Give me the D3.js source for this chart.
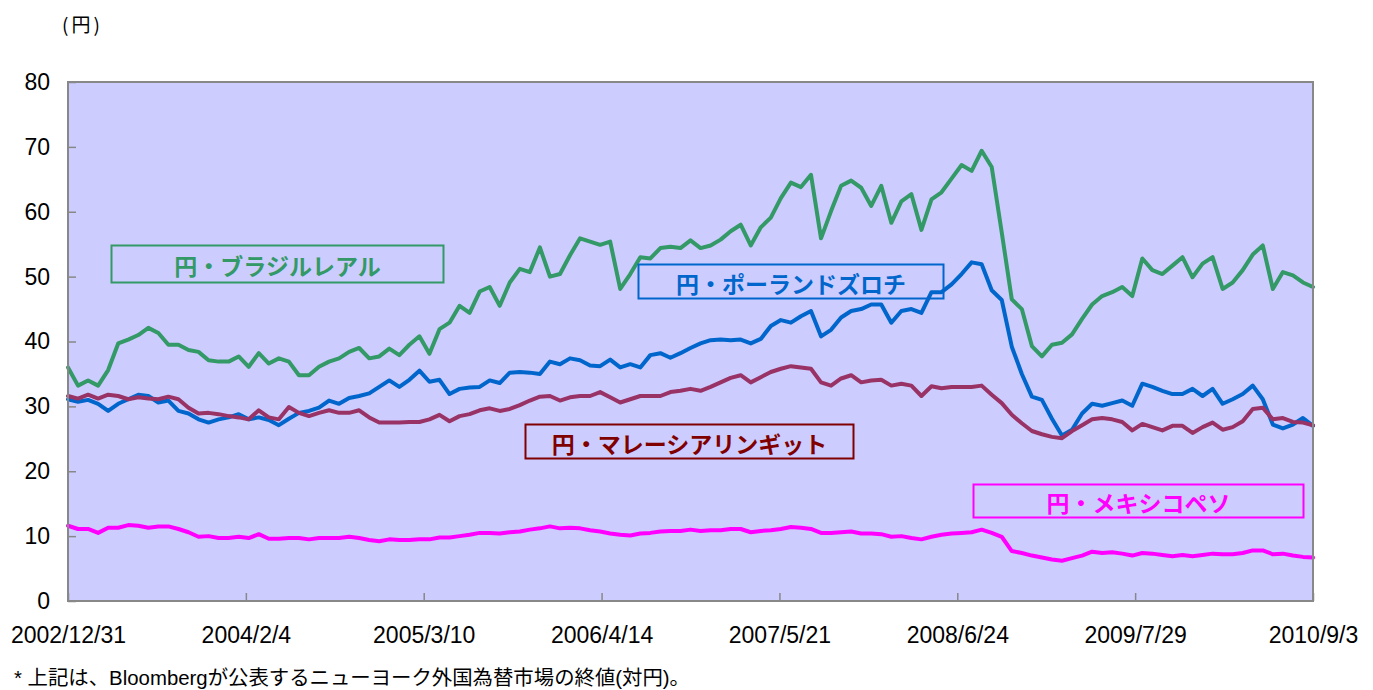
<!DOCTYPE html>
<html>
<head>
<meta charset="utf-8">
<script src="https://cdn.jsdelivr.net/npm/d3@7/dist/d3.min.js"></script>
<style>
  html, body { margin: 0; padding: 0; background: #ffffff; }
  svg { display: block; }
</style>
</head>
<body>
<svg id="chart" width="1373" height="690"></svg>
<script>
// ---- data (equally spaced samples 2002/12/31 → 2010/9/3) ----
const tickLabels = ["2002/12/31", "2004/2/4", "2005/3/10", "2006/4/14", "2007/5/21", "2008/6/24", "2009/7/29", "2010/9/3"];
const yTicks = [0, 10, 20, 30, 40, 50, 60, 70, 80];

const brl = [36.0, 33.2, 34.0, 33.2, 35.6, 39.7, 40.3, 41.0, 42.1, 41.3,
  39.5, 39.5, 38.7, 38.4, 37.1, 36.9, 36.9, 37.7, 36.1, 38.2,
  36.6, 37.4, 36.9, 34.8, 34.8, 36.1, 36.9, 37.4, 38.4, 39.0,
  37.4, 37.7, 38.9, 37.9, 39.5, 40.8, 38.1, 41.9, 42.9, 45.5,
  44.4, 47.7, 48.4, 45.5, 49.1, 51.2, 50.7, 54.5, 50.0, 50.4,
  53.3, 55.9, 55.4, 54.9, 55.4, 48.1, 50.4, 53.0, 52.8, 54.4,
  54.6, 54.4, 55.6, 54.4, 54.8, 55.7, 57.0, 58.0, 54.8, 57.6,
  59.1, 62.1, 64.5, 63.8, 65.7, 55.9, 60.1, 64.0, 64.8, 63.7,
  60.9, 64.0, 58.3, 61.6, 62.7, 57.2, 61.9, 63.0, 65.1, 67.2,
  66.3, 69.4, 66.9, 56.8, 46.5, 45.0, 39.3, 37.7, 39.5, 39.8,
  41.1, 43.5, 45.7, 47.0, 47.6, 48.4, 47.0, 52.8, 51.0, 50.4,
  51.7, 53.0, 49.9, 52.0, 53.0, 48.1, 49.1, 51.0, 53.4, 54.8,
  48.1, 50.7, 50.2, 49.1, 48.4];

const pln = [31.1, 30.7, 31.0, 30.4, 29.3, 30.4, 31.1, 31.8, 31.6, 30.6,
  30.9, 29.3, 28.9, 28.0, 27.5, 28.0, 28.3, 28.8, 28.0, 28.3,
  27.9, 27.1, 28.1, 29.0, 29.3, 29.8, 30.9, 30.4, 31.3, 31.6,
  32.0, 33.0, 34.0, 33.0, 34.1, 35.5, 33.8, 34.1, 31.9, 32.7,
  32.9, 33.0, 34.0, 33.6, 35.2, 35.3, 35.2, 35.0, 36.9, 36.5,
  37.4, 37.1, 36.3, 36.2, 37.2, 36.0, 36.5, 36.0, 37.9, 38.2,
  37.5, 38.2, 39.0, 39.7, 40.2, 40.3, 40.2, 40.3, 39.7, 40.4,
  42.4, 43.3, 42.9, 43.9, 44.7, 40.8, 41.8, 43.7, 44.7, 45.0,
  45.7, 45.7, 42.9, 44.7, 45.0, 44.4, 47.6, 47.6, 48.8, 50.4,
  52.2, 51.9, 47.9, 46.4, 39.2, 35.0, 31.5, 31.0, 28.1, 25.5,
  26.4, 28.9, 30.4, 30.1, 30.5, 30.9, 30.1, 33.5, 33.0, 32.4,
  31.9, 31.9, 32.7, 31.6, 32.7, 30.4, 31.1, 31.9, 33.2, 31.1,
  27.2, 26.6, 27.2, 28.2, 27.0];

const myr = [31.6, 31.2, 31.8, 31.2, 31.8, 31.6, 31.1, 31.4, 31.2, 31.1,
  31.5, 31.1, 29.8, 28.9, 29.0, 28.8, 28.5, 28.3, 28.0, 29.4,
  28.3, 28.0, 29.9, 29.0, 28.5, 29.0, 29.4, 29.0, 29.0, 29.4,
  28.3, 27.5, 27.5, 27.5, 27.6, 27.6, 28.0, 28.7, 27.7, 28.5,
  28.8, 29.4, 29.7, 29.3, 29.6, 30.2, 30.9, 31.5, 31.6, 30.9,
  31.4, 31.6, 31.6, 32.2, 31.4, 30.6, 31.1, 31.6, 31.6, 31.6,
  32.2, 32.4, 32.7, 32.4, 33.0, 33.7, 34.4, 34.8, 33.7, 34.5,
  35.3, 35.8, 36.2, 36.0, 35.8, 33.7, 33.2, 34.3, 34.8, 33.7,
  34.0, 34.1, 33.2, 33.5, 33.2, 31.6, 33.1, 32.8, 33.0, 33.0,
  33.0, 33.2, 31.8, 30.5, 28.7, 27.4, 26.2, 25.7, 25.3, 25.1,
  26.2, 27.1, 28.0, 28.2, 28.0, 27.6, 26.3, 27.3, 26.8, 26.3,
  27.0, 27.0, 25.9, 26.8, 27.5, 26.4, 26.8, 27.7, 29.6, 29.8,
  28.0, 28.2, 27.6, 27.5, 27.1];

const mxn = [11.6, 11.1, 11.1, 10.5, 11.3, 11.3, 11.7, 11.6, 11.3, 11.5,
  11.5, 11.1, 10.6, 9.9, 10.0, 9.7, 9.7, 9.9, 9.7, 10.3,
  9.6, 9.6, 9.7, 9.7, 9.5, 9.7, 9.7, 9.7, 9.9, 9.7,
  9.4, 9.2, 9.5, 9.4, 9.4, 9.5, 9.5, 9.8, 9.8, 10.0,
  10.2, 10.5, 10.5, 10.4, 10.6, 10.7, 11.0, 11.2, 11.5, 11.2,
  11.3, 11.2, 10.9, 10.7, 10.4, 10.2, 10.1, 10.4, 10.5, 10.7,
  10.8, 10.8, 11.0, 10.8, 10.9, 10.9, 11.1, 11.1, 10.6, 10.8,
  10.9, 11.1, 11.4, 11.3, 11.1, 10.5, 10.5, 10.6, 10.7, 10.4,
  10.4, 10.3, 9.9, 10.0, 9.7, 9.5, 9.9, 10.2, 10.4, 10.5,
  10.6, 11.0, 10.5, 9.9, 7.7, 7.4, 7.0, 6.7, 6.4, 6.2,
  6.6, 7.0, 7.6, 7.4, 7.5, 7.3, 7.0, 7.4, 7.3, 7.1,
  6.9, 7.1, 6.9, 7.1, 7.3, 7.2, 7.2, 7.4, 7.8, 7.8,
  7.2, 7.3, 7.0, 6.8, 6.7];

const seriesNames = ["円・ブラジルレアル", "円・ポーランドズロチ", "円・マレーシアリンギット", "円・メキシコペソ"];
const seriesData = [brl, pln, myr, mxn];
const lineColors = ["#339966", "#0066CC", "#993366", "#FF00FF"];
const labelColors = ["#339966", "#0066CC", "#800000", "#FF00FF"];

// ---- layout ----
const svg = d3.select("#chart");
const plot = { left: 68, right: 1313, top: 82, bottom: 601 };
const n = brl.length;

const x = d3.scaleLinear().domain([0, n - 1]).range([plot.left, plot.right]);
const y = d3.scaleLinear().domain([0, 80]).range([plot.bottom, plot.top]);

// plot background
svg.append("rect")
  .attr("x", plot.left).attr("y", plot.top)
  .attr("width", plot.right - plot.left).attr("height", plot.bottom - plot.top)
  .attr("fill", "#CCCCFF");

// lines
const line = d3.line().x((d, i) => x(i)).y(d => y(d)).curve(d3.curveLinear);
seriesData.forEach((s, k) => {
  svg.append("path")
    .datum(s)
    .attr("d", line)
    .attr("fill", "none")
    .attr("stroke", lineColors[k])
    .attr("stroke-width", 4)
    .attr("stroke-linejoin", "round")
    .attr("stroke-linecap", "round");
});

// border
svg.append("rect")
  .attr("x", plot.left).attr("y", plot.top)
  .attr("width", plot.right - plot.left).attr("height", plot.bottom - plot.top)
  .attr("fill", "none").attr("stroke", "#888888").attr("stroke-width", 2);

// y axis (inner ticks)
const yAxis = d3.axisLeft(y).tickValues(yTicks).tickSize(-8).tickPadding(18).tickFormat(d3.format("d"));
const gy = svg.append("g").attr("transform", `translate(${plot.left},0)`).call(yAxis);
gy.select(".domain").remove();
gy.selectAll(".tick line").attr("stroke", "#888888").attr("stroke-width", 1.5);
gy.selectAll(".tick text")
  .attr("font-family", "'Liberation Sans', Arial, sans-serif")
  .attr("font-size", 23).attr("fill", "#000");

// x axis (inner ticks) on index positions
const tickPos = tickLabels.map((_, k) => k * (n - 1) / (tickLabels.length - 1));
const xAxis = d3.axisBottom(x).tickValues(tickPos).tickSize(-8).tickPadding(26)
  .tickFormat((d, k) => tickLabels[k]);
const gx = svg.append("g").attr("transform", `translate(0,${plot.bottom})`).call(xAxis);
gx.select(".domain").remove();
gx.selectAll(".tick line").attr("stroke", "#888888").attr("stroke-width", 1.5);
gx.selectAll(".tick text")
  .attr("font-family", "'Liberation Sans', Arial, sans-serif")
  .attr("font-size", 23).attr("fill", "#000");

// series label boxes
const boxes = [
  { x: 111.5, y: 245.5, w: 332, h: 37 },
  { x: 638.5, y: 264.5, w: 305, h: 34 },
  { x: 525.5, y: 424.5, w: 328, h: 34 },
  { x: 973.5, y: 484.5, w: 330, h: 33 }
];
boxes.forEach((b, k) => {
  svg.append("rect")
    .attr("x", b.x).attr("y", b.y).attr("width", b.w).attr("height", b.h)
    .attr("fill", "none").attr("stroke", labelColors[k]).attr("stroke-width", 2);
  svg.append("text")
    .attr("x", b.x + b.w / 2).attr("y", b.y + b.h / 2 + 1)
    .attr("text-anchor", "middle").attr("dominant-baseline", "central")
    .attr("font-family", "'Noto Sans CJK JP', sans-serif")
    .attr("font-weight", 700).attr("font-size", 23)
    .attr("fill", labelColors[k])
    .text(seriesNames[k]);
});

// unit label
svg.append("text")
  .attr("x", 62).attr("y", 23)
  .attr("dominant-baseline", "central")
  .attr("font-family", "'Noto Sans CJK JP', sans-serif")
  .attr("font-size", 19).attr("letter-spacing", 3).attr("fill", "#000")
  .text("(円)");

// footnote
svg.append("text")
  .attr("x", 14).attr("y", 678)
  .attr("dominant-baseline", "central")
  .attr("font-family", "'Liberation Sans', 'Noto Sans CJK JP', sans-serif")
  .attr("font-size", 20).attr("fill", "#000")
  .attr("textLength", 676).attr("lengthAdjust", "spacingAndGlyphs")
  .text("* 上記は、Bloombergが公表するニューヨーク外国為替市場の終値(対円)。");
</script>
</body>
</html>
